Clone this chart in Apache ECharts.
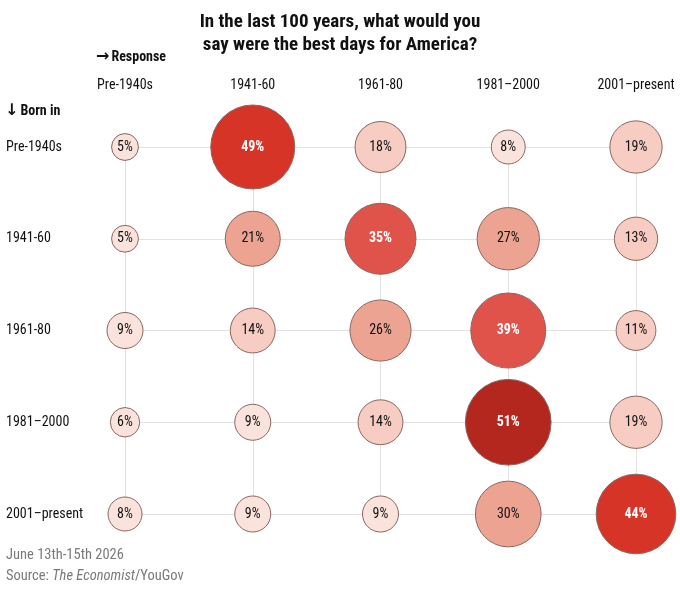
<!DOCTYPE html>
<html><head><meta charset="utf-8">
<script src="https://cdn.jsdelivr.net/npm/echarts/dist/echarts.min.js"></script>
<style>html,body{margin:0;padding:0;background:#fff}#c{width:680px;height:590px}</style>
</head><body><div id="c"></div>
<script>
const responses = ['Pre-1940s', '1941-60', '1961-80', '1981–2000', '2001–present'];
const bornIn = ['Pre-1940s', '1941-60', '1961-80', '1981–2000', '2001–present'];
const bornPre1940s = [5, 49, 18, 8, 19];
const born1941_60 = [5, 21, 35, 27, 13];
const born1961_80 = [9, 14, 26, 39, 11];
const born1981_2000 = [6, 9, 14, 51, 19];
const born2001_present = [8, 9, 9, 30, 44];

const rows = [bornPre1940s, born1941_60, born1961_80, born1981_2000, born2001_present];

const FONT = "'Liberation Sans Narrow', 'Roboto Condensed', 'Arial Narrow', 'Roboto', sans-serif";
const ARROW_FONT = "'DejaVu Sans', sans-serif";

function fillFor(v) {
  if (v >= 50) return '#b3271f';
  if (v >= 40) return '#d63426';
  if (v >= 35) return '#e0534a';
  if (v >= 20) return '#eca392';
  if (v >= 10) return '#f7ccc3';
  return '#fbe3dd';
}

const data = [];
rows.forEach((r, yi) => r.forEach((v, xi) => {
  data.push({
    value: [xi, yi, v],
    itemStyle: { color: fillFor(v) },
    label: v >= 35 ? { color: '#fff', fontWeight: 'bold' } : { color: '#111', fontWeight: 'normal' }
  });
}));

const headRich = {
  ar: { fontFamily: ARROW_FONT, fontSize: 16, fontWeight: 'bold', fill: '#111', padding: [0, 2, 0, 0] },
  t: { fontFamily: FONT, fontSize: 14, fontWeight: 'bold', fill: '#111' }
};

const chart = echarts.init(document.getElementById('c'));
chart.setOption({
  backgroundColor: '#fff',
  textStyle: { fontFamily: FONT },
  title: {
    text: 'In the last 100 years, what would you\nsay were the best days for America?',
    left: 'center', top: 6,
    textStyle: { fontFamily: FONT, fontSize: 19, fontWeight: 'bold', color: '#111', lineHeight: 23 }
  },
  grid: { left: 125, right: 44, top: 147, bottom: 76 },
  xAxis: {
    type: 'category', data: responses, position: 'top', boundaryGap: false,
    axisLine: { show: false }, axisTick: { show: false },
    axisLabel: { margin: 55, fontSize: 14, color: '#111', fontFamily: FONT },
    splitLine: { show: true, lineStyle: { color: '#e2e2e2', width: 1 } }
  },
  yAxis: {
    type: 'category', data: bornIn, inverse: true, boundaryGap: false,
    axisLine: { show: false }, axisTick: { show: false },
    axisLabel: { margin: 119, align: 'left', fontSize: 14, color: '#111', fontFamily: FONT },
    splitLine: { show: true, lineStyle: { color: '#e2e2e2', width: 1 } }
  },
  graphic: [
    { type: 'text', left: 96, top: 49, style: { rich: headRich, text: '{ar|→}{t|Response}' } },
    { type: 'text', left: 5, top: 103, style: { rich: headRich, text: '{ar|↓}{t|Born in}' } },
    { type: 'text', left: 6, top: 548, style: { text: 'June 13th-15th 2026', fontFamily: FONT, fontSize: 14.5, fill: '#7a7a7a' } },
    { type: 'text', left: 6, top: 569, style: { rich: { a: { fontFamily: FONT, fontSize: 14.5, fill: '#7a7a7a' }, i: { fontFamily: FONT, fontSize: 14.5, fontStyle: 'italic', fill: '#7a7a7a' } }, text: '{a|Source: }{i|The Economist}{a|/YouGov}' } }
  ],
  series: [{
    type: 'scatter',
    data: data,
    symbolSize: d => 12 * Math.sqrt(d[2]),
    itemStyle: { borderColor: '#8a6660', borderWidth: 1, opacity: 1 },
    label: {
      show: true, position: 'inside',
      formatter: p => p.value[2] + '%',
      fontFamily: FONT, fontSize: 14
    },
    emphasis: { disabled: true },
    z: 3
  }]
});
</script>
</body></html>
